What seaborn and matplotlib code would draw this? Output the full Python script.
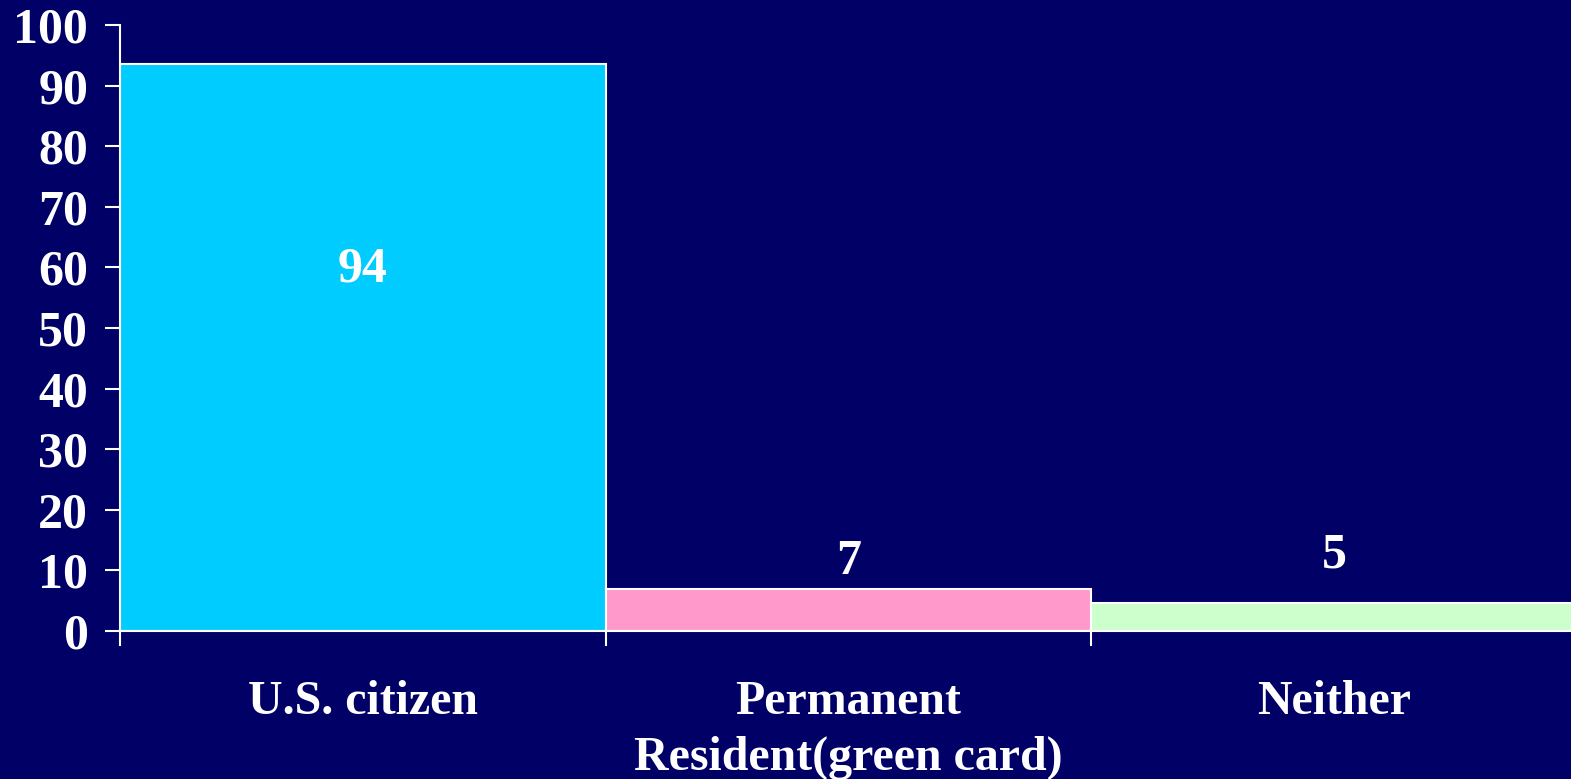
import matplotlib
matplotlib.use("Agg")
import matplotlib.pyplot as plt
import seaborn as sns
import pandas as pd

categories = ["U.S. citizen", "Permanent\nResident(green card)", "Neither"]
values = [93.6, 6.9, 4.6]
value_labels = ["94", "7", "5"]
label_y = [59.6, 11.4, 12.5]
bar_colors = ["#00CCFF", "#FF99CC", "#CCFFCC"]
y_ticks = list(range(0, 101, 10))

bg = "#000066"
sns.set_style("white")
plt.rcParams["font.family"] = ["Liberation Serif", "DejaVu Serif"]
plt.rcParams["font.weight"] = "bold"

df = pd.DataFrame({"cat": categories, "val": values})

fig = plt.figure(figsize=(15.71, 7.79), dpi=100, facecolor=bg)
ax = fig.add_axes([120 / 1571, 1 - 631 / 779, 1457 / 1571, 606 / 779])
ax.set_facecolor(bg)

sns.barplot(data=df, x="cat", y="val", hue="cat", palette=bar_colors,
            width=1, edgecolor="white", linewidth=1.5, legend=False,
            saturation=1, ax=ax)

ax.set_xlim(-0.5, 2.5)
ax.set_ylim(0, 100)
ax.set_yticks(y_ticks)
ax.set_xlabel("")
ax.set_ylabel("")

for s in ["top", "right"]:
    ax.spines[s].set_visible(False)
for s in ["left", "bottom"]:
    ax.spines[s].set_color("white")
    ax.spines[s].set_linewidth(1.5)

ax.tick_params(axis="y", colors="white", labelsize=36, length=11, width=1.5,
               direction="out", pad=12, left=True)
ax.tick_params(axis="x", which="major", colors="white", labelsize=34.5,
               length=0, pad=35)
ax.set_xticks([-0.5, 0.5, 1.5], minor=True)
ax.tick_params(axis="x", which="minor", color="white", length=11, width=1.5,
               direction="out", bottom=True)
for t in ax.get_xticklabels() + ax.get_yticklabels():
    t.set_fontweight("bold")
for t in ax.get_xticklabels():
    t.set_linespacing(1.35)

for i, (lab, y) in enumerate(zip(value_labels, label_y)):
    ax.text(i, y, lab, color="white", fontsize=36, fontweight="bold",
            ha="center", va="center")

fig.savefig("out.png", dpi=100, facecolor=bg)
